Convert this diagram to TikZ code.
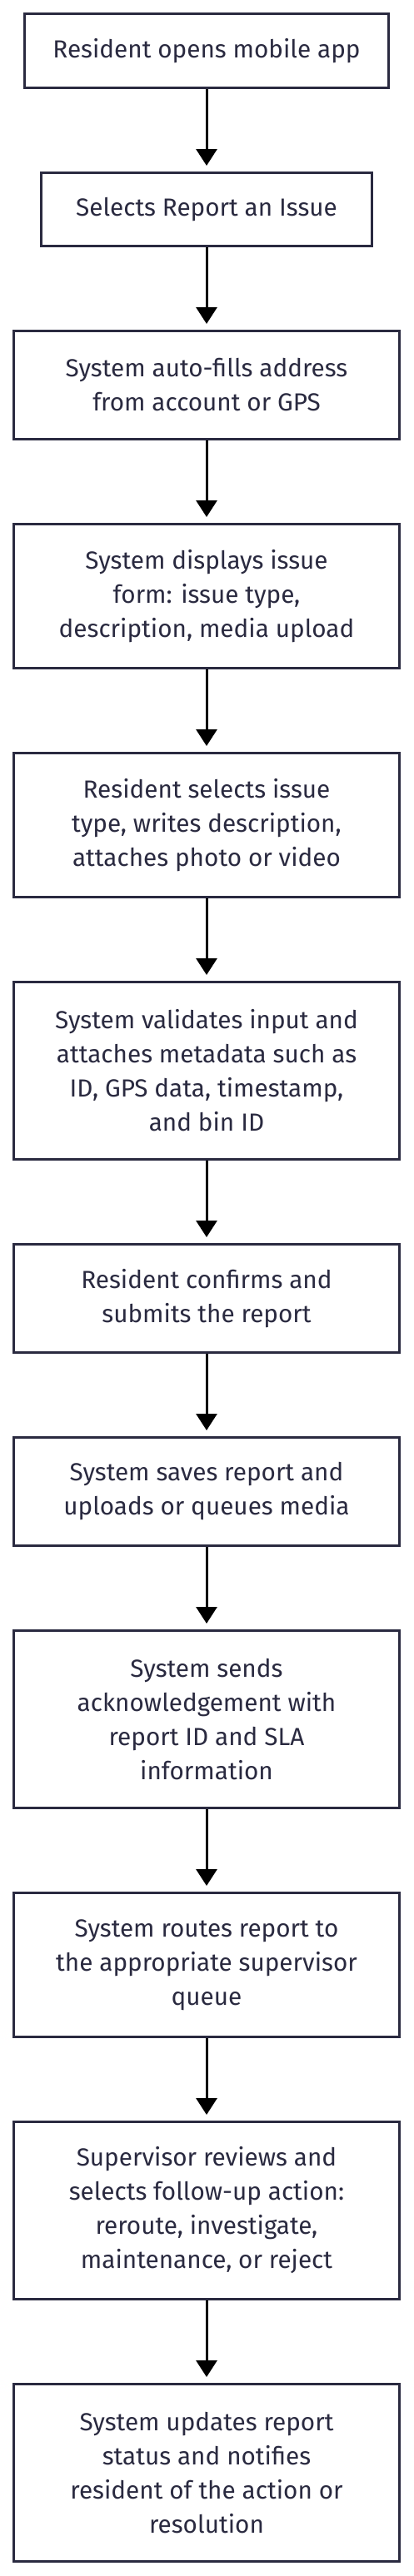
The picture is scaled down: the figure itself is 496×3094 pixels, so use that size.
\documentclass[tikz,border=0pt]{standalone}
\usepackage{fontspec}
\setmainfont{Fira Sans}
\usetikzlibrary{arrows.meta,backgrounds}
\definecolor{boxline}{HTML}{2A2A40}
\definecolor{boxtext}{HTML}{2A2A40}
\definecolor{shadowcol}{HTML}{EFEFEF}
\tikzset{
  stepbox/.style={draw=boxline, line width=3pt, fill=white, rectangle, inner sep=0pt,
    align=center, text=boxtext, font=\fontsize{29.7}{41}\selectfont},
  flowarrow/.style={draw=black, line width=3pt, -{Triangle[width=25pt,length=20pt]}, shorten >=7pt},
  boxshadow/.style={fill=shadowcol, draw=none}
}
\begin{document}
\begin{tikzpicture}[x=1pt,y=1pt]
\useasboundingbox (0,0) rectangle (496,-3094);
\fill[white] (0,0) rectangle (496,-3094);
\node[stepbox, minimum width=437pt, minimum height=89pt] (b1) at (248,-61) {Resident opens mobile app};
\node[stepbox, minimum width=397pt, minimum height=88pt] (b2) at (248,-251.5) {Selects Report an Issue};
\node[stepbox, minimum width=463pt, minimum height=130pt] (b3) at (248,-462.5) {System auto-fills address\\from account or GPS};
\node[stepbox, minimum width=463pt, minimum height=173pt] (b4) at (248,-716) {System displays issue\\form: issue type,\\description, media upload};
\node[stepbox, minimum width=463pt, minimum height=173pt] (b5) at (248,-991) {Resident selects issue\\type, writes description,\\attaches photo or video};
\node[stepbox, minimum width=463pt, minimum height=213pt] (b6) at (248,-1286) {System validates input and\\attaches metadata such as\\ID, GPS data, timestamp,\\and bin ID};
\node[stepbox, minimum width=463pt, minimum height=130pt] (b7) at (248,-1559.5) {Resident confirms and\\submits the report};
\node[stepbox, minimum width=463pt, minimum height=130pt] (b8) at (248,-1791.5) {System saves report and\\uploads or queues media};
\node[stepbox, minimum width=463pt, minimum height=213pt] (b9) at (248,-2065) {System sends\\acknowledgement with\\report ID and SLA\\information};
\node[stepbox, minimum width=463pt, minimum height=173pt] (b10) at (248,-2360) {System routes report to\\the appropriate supervisor\\queue};
\node[stepbox, minimum width=463pt, minimum height=213pt] (b11) at (248,-2655) {Supervisor reviews and\\selects follow-up action:\\reroute, investigate,\\maintenance, or reject};
\node[stepbox, minimum width=463pt, minimum height=213pt] (b12) at (248,-2970) {System updates report\\status and notifies\\resident of the action or\\resolution};
\begin{scope}[on background layer]
\foreach \n in {b1,b2,b3,b4,b5,b6,b7,b8,b9,b10,b11,b12}{
  \fill[boxshadow] ([shift={(8,-8)}]\n.south west) rectangle ([shift={(8,-8)}]\n.north east);
}
\end{scope}
\draw[flowarrow] (b1) -- (b2);
\draw[flowarrow] (b2) -- (b3);
\draw[flowarrow] (b3) -- (b4);
\draw[flowarrow] (b4) -- (b5);
\draw[flowarrow] (b5) -- (b6);
\draw[flowarrow] (b6) -- (b7);
\draw[flowarrow] (b7) -- (b8);
\draw[flowarrow] (b8) -- (b9);
\draw[flowarrow] (b9) -- (b10);
\draw[flowarrow] (b10) -- (b11);
\draw[flowarrow] (b11) -- (b12);
\end{tikzpicture}
\end{document}
